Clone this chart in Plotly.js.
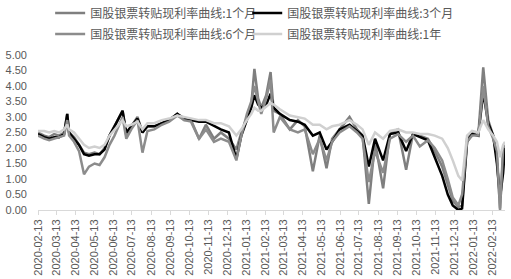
<!DOCTYPE html>
<html>
<head>
<meta charset="utf-8">
<script src="https://cdn.plot.ly/plotly-3.0.1.min.js"></script>
<style>html,body{margin:0;padding:0;background:#fff;}#chart{width:511px;height:279px;}</style>
</head>
<body>
<div id="chart"></div>
<script>
const dates = [
"2020-02-13","2020-02-23","2020-03-02","2020-03-10","2020-03-18","2020-03-26","2020-03-31","2020-04-03","2020-04-11","2020-04-19",
"2020-04-27","2020-05-05","2020-05-14","2020-05-22","2020-05-30","2020-06-07","2020-06-15","2020-06-23","2020-06-28","2020-07-04",
"2020-07-12","2020-07-22","2020-07-30","2020-08-07","2020-08-18","2020-08-30","2020-09-11","2020-09-24","2020-10-05","2020-10-16",
"2020-10-29","2020-11-09","2020-11-22","2020-12-03","2020-12-16","2020-12-28","2021-01-05","2021-01-14","2021-01-21","2021-01-26",
"2021-02-01","2021-02-06","2021-02-14","2021-02-21","2021-02-26","2021-03-08","2021-03-24","2021-04-06","2021-04-17","2021-04-30",
"2021-05-11","2021-05-22","2021-05-31","2021-06-12","2021-06-28","2021-07-10","2021-07-19","2021-07-29","2021-08-08","2021-08-21",
"2021-09-01","2021-09-14","2021-09-27","2021-10-08","2021-10-19","2021-11-01","2021-11-12","2021-11-24","2021-12-03","2021-12-11",
"2021-12-20","2021-12-26","2022-01-03","2022-01-11","2022-01-21","2022-01-29","2022-02-06","2022-02-14","2022-02-20","2022-02-25",
"2022-03-02","2022-03-05"];

const rate1M = [
2.5,2.4,2.35,2.45,2.4,2.5,3.1,2.5,2.35,2.1,
1.85,1.8,1.85,1.8,2.0,2.4,2.7,3.0,3.2,2.4,
2.7,3.0,2.5,2.7,2.7,2.8,2.9,3.1,2.9,2.9,
2.3,2.75,2.3,2.5,2.3,1.95,2.5,3.0,3.4,4.55,
3.6,3.3,3.7,4.45,3.2,3.1,2.6,2.9,2.7,1.25,
2.4,1.35,2.3,2.6,3.0,2.6,2.4,0.2,2.2,0.7,
2.5,2.6,1.3,2.45,2.4,2.3,1.9,1.4,0.8,0.3,
0.1,0.15,2.3,2.5,2.4,4.6,2.9,2.4,1.7,0.05,
1.8,2.05];

const rate3M = [
2.45,2.35,2.3,2.35,2.35,2.45,3.1,2.5,2.3,2.1,
1.8,1.75,1.8,1.8,1.95,2.4,2.7,3.0,3.2,2.5,
2.7,2.95,2.5,2.7,2.7,2.8,2.9,3.1,2.95,2.9,
2.85,2.85,2.7,2.6,2.5,1.65,2.4,2.95,3.3,3.7,
3.4,3.3,3.4,3.75,3.3,3.1,2.9,2.85,2.75,2.4,
2.5,1.95,2.2,2.6,2.75,2.55,2.4,1.4,2.3,1.6,
2.45,2.5,1.9,2.45,2.35,2.25,1.7,1.1,0.5,0.15,
0.0,0.05,2.2,2.45,2.4,3.8,2.8,2.4,1.5,0.4,
1.2,2.0];

const rate6M = [
2.4,2.3,2.25,2.3,2.35,2.4,2.9,2.4,2.2,1.9,
1.15,1.4,1.5,1.45,1.7,2.1,2.4,2.8,3.0,2.3,
2.6,2.9,1.85,2.55,2.6,2.75,2.85,3.05,2.9,2.85,
2.3,2.6,2.2,2.3,2.2,1.6,2.4,3.1,3.5,4.0,
3.5,3.1,3.6,4.2,2.5,3.0,2.6,2.5,2.6,1.8,
2.3,1.6,2.2,2.5,2.7,2.5,2.3,0.9,1.9,1.2,
2.3,2.45,2.2,2.4,2.05,2.25,2.0,1.6,1.0,0.4,
0.15,0.5,2.2,2.4,2.4,4.0,2.7,2.3,1.9,0.0,
2.0,2.1];

const rate1Y = [
2.55,2.55,2.5,2.55,2.5,2.6,2.75,2.6,2.5,2.3,
2.1,2.0,2.05,2.0,2.1,2.4,2.6,2.8,2.9,2.7,
2.75,2.85,2.6,2.8,2.8,2.9,2.95,3.05,3.0,2.95,
2.9,2.9,2.8,2.8,2.7,2.4,2.6,2.9,3.1,3.3,
3.2,3.2,3.35,3.45,3.4,3.25,3.05,3.0,2.95,2.75,
2.75,2.6,2.7,2.75,2.9,2.75,2.6,2.1,2.5,2.3,
2.55,2.6,2.5,2.5,2.45,2.45,2.4,2.3,2.0,1.6,
1.1,0.95,2.4,2.55,2.5,2.9,2.6,2.4,2.2,1.7,
2.1,2.2];

const seriesNames = ["国股银票转贴现利率曲线:1个月","国股银票转贴现利率曲线:3个月","国股银票转贴现利率曲线:6个月","国股银票转贴现利率曲线:1年"];
const seriesColors = ["#7f7f7f","#000000","#8c8c8c","#d0d0d0"];
const seriesValues = [rate1M, rate3M, rate6M, rate1Y];
const seriesLegend = ["legend","legend2","legend","legend2"];

const traces = seriesValues.map((v,i)=>({
  x: dates, y: v, type: 'scatter', mode: 'lines', name: seriesNames[i],
  legend: seriesLegend[i], legendgroup: 'g' + i,
  line: {color: seriesColors[i], width: 2.5}
}));

const legendFont = {family: 'Noto Sans CJK SC, Liberation Sans, sans-serif', size: 12, color: '#595959'};

const layout = {
  width: 511, height: 279,
  margin: {l: 38, r: 6, t: 55, b: 69, autoexpand: false},
  paper_bgcolor: '#ffffff', plot_bgcolor: '#ffffff',
  font: {family: 'Liberation Sans, Noto Sans CJK SC, sans-serif', size: 11, color: '#595959'},
  showlegend: true,
  legend: {
    orientation: 'v', x: 0.026, xanchor: 'left', y: 1.365, yanchor: 'top',
    font: legendFont, traceorder: 'grouped', tracegroupgap: 2, bgcolor: 'rgba(0,0,0,0)'
  },
  legend2: {
    orientation: 'v', x: 0.448, xanchor: 'left', y: 1.365, yanchor: 'top',
    font: legendFont, traceorder: 'grouped', tracegroupgap: 2, bgcolor: 'rgba(0,0,0,0)'
  },
  xaxis: {
    type: 'date', range: ['2020-02-13', '2022-03-05'],
    tick0: '2020-02-13', dtick: 'M1', tickformat: '%Y-%m-%d', tickangle: -90,
    showgrid: false, zeroline: false, showline: true, linecolor: '#d9d9d9', linewidth: 1,
    ticks: 'outside', ticklen: 4, tickcolor: '#d9d9d9',
    tickfont: {size: 11, color: '#595959'}
  },
  yaxis: {
    range: [0, 5], dtick: 0.5, tickformat: '.2f',
    showgrid: false, zeroline: false, showline: false, ticks: '',
    ticklabelstandoff: 10,
    tickfont: {size: 11, color: '#595959'}
  }
};

Plotly.newPlot('chart', traces, layout, {displayModeBar: false, staticPlot: true});
</script>
</body>
</html>
